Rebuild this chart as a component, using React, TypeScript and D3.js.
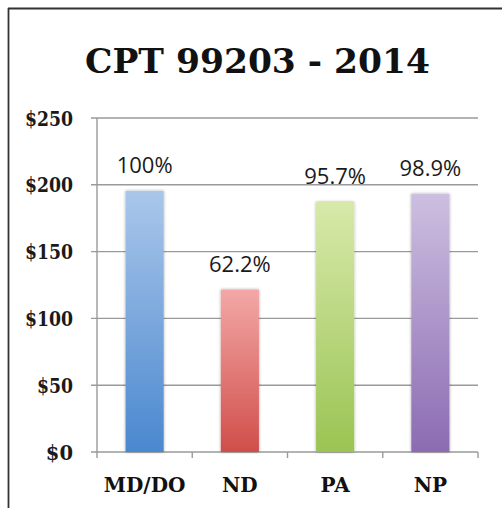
import React from "react";
import * as d3 from "d3";

const categories = ["MD/DO", "ND", "PA", "NP"];
const values = [195.5, 121.6, 187.1, 193.3];
const pctLabels = ["100%", "62.2%", "95.7%", "98.9%"];
const yTicks = [0, 50, 100, 150, 200, 250];
const topColors = ["#aac7ea", "#f3a8a6", "#d7e9aa", "#cdbfe0"];
const bottomColors = ["#4a88cf", "#d04e4a", "#9ac453", "#8b6bb2"];

const W = 502;
const H = 508;

export default function App() {
  const x = d3.scaleBand<string>().domain(categories).range([97, 478]).paddingInner(0.6).paddingOuter(0.3);
  const y = d3.scaleLinear().domain([0, 250]).range([452, 118]);
  const serif = "'DejaVu Serif', 'Liberation Serif', serif";
  const step = x.step();
  const tickXs = d3.range(categories.length + 1).map((i) => 97 + i * step);
  return (
    <svg width={W} height={H} style={{ position: "absolute", left: 0, top: 0, background: "#fff" }}>
      <defs>
        {categories.map((c, i) => (
          <linearGradient key={c} id={`g${i}`} x1="0" y1="0" x2="0" y2="1">
            <stop offset="0%" stopColor={topColors[i]} />
            <stop offset="100%" stopColor={bottomColors[i]} />
          </linearGradient>
        ))}
        <filter id="sh" x="-30%" y="-10%" width="160%" height="120%">
          <feDropShadow dx="0" dy="0" stdDeviation="1.5" floodColor="#000" floodOpacity="0.35" />
        </filter>
      </defs>
      <rect x={0} y={0} width={W} height={H} fill="#fff" />
      <line x1={8} x2={W} y1={8.5} y2={8.5} stroke="#333" strokeWidth={1.8} />
      <line x1={8.5} x2={8.5} y1={8} y2={H} stroke="#333" strokeWidth={1.8} />
      <text x={257.5} y={73} textAnchor="middle" fontFamily={serif} fontWeight="bold" fontSize={34} fill="#111" textLength={345} lengthAdjust="spacingAndGlyphs">
        CPT 99203 - 2014
      </text>
      {yTicks.map((t) => (
        <g key={t}>
          <line x1={91} x2={478} y1={y(t)} y2={y(t)} stroke="#9a9a9a" strokeWidth={1.4} />
          <text x={73} y={y(t) + 7.5} textAnchor="end" fontFamily={serif} fontWeight="bold" fontSize={19.5} fill="#1a1a1a" textLength={t === 0 ? undefined : t < 100 ? 36 : 48} lengthAdjust="spacingAndGlyphs">
            {`$${t}`}
          </text>
        </g>
      ))}
      <line x1={97} x2={97} y1={y(250)} y2={y(0)} stroke="#9a9a9a" strokeWidth={1.4} />
      {tickXs.map((tx, i) => (
        <line key={i} x1={tx} x2={tx} y1={y(0)} y2={y(0) + 6} stroke="#9a9a9a" strokeWidth={1.4} />
      ))}
      {categories.map((c, i) => (
        <g key={c}>
          <rect
            x={x(c)}
            y={y(values[i])}
            width={x.bandwidth()}
            height={y(0) - y(values[i])}
            fill={`url(#g${i})`}
            filter="url(#sh)"
          />
          <text x={(x(c) as number) + x.bandwidth() / 2} y={y(values[i]) - 18} textAnchor="middle" fontFamily="'Open Sans', 'Liberation Sans', sans-serif" fontSize={22} fill="#1a1a1a">
            {pctLabels[i]}
          </text>
          <text x={(x(c) as number) + x.bandwidth() / 2} y={492} textAnchor="middle" fontFamily={serif} fontWeight="bold" fontSize={20} fill="#111">
            {c}
          </text>
        </g>
      ))}
    </svg>
  );
}
